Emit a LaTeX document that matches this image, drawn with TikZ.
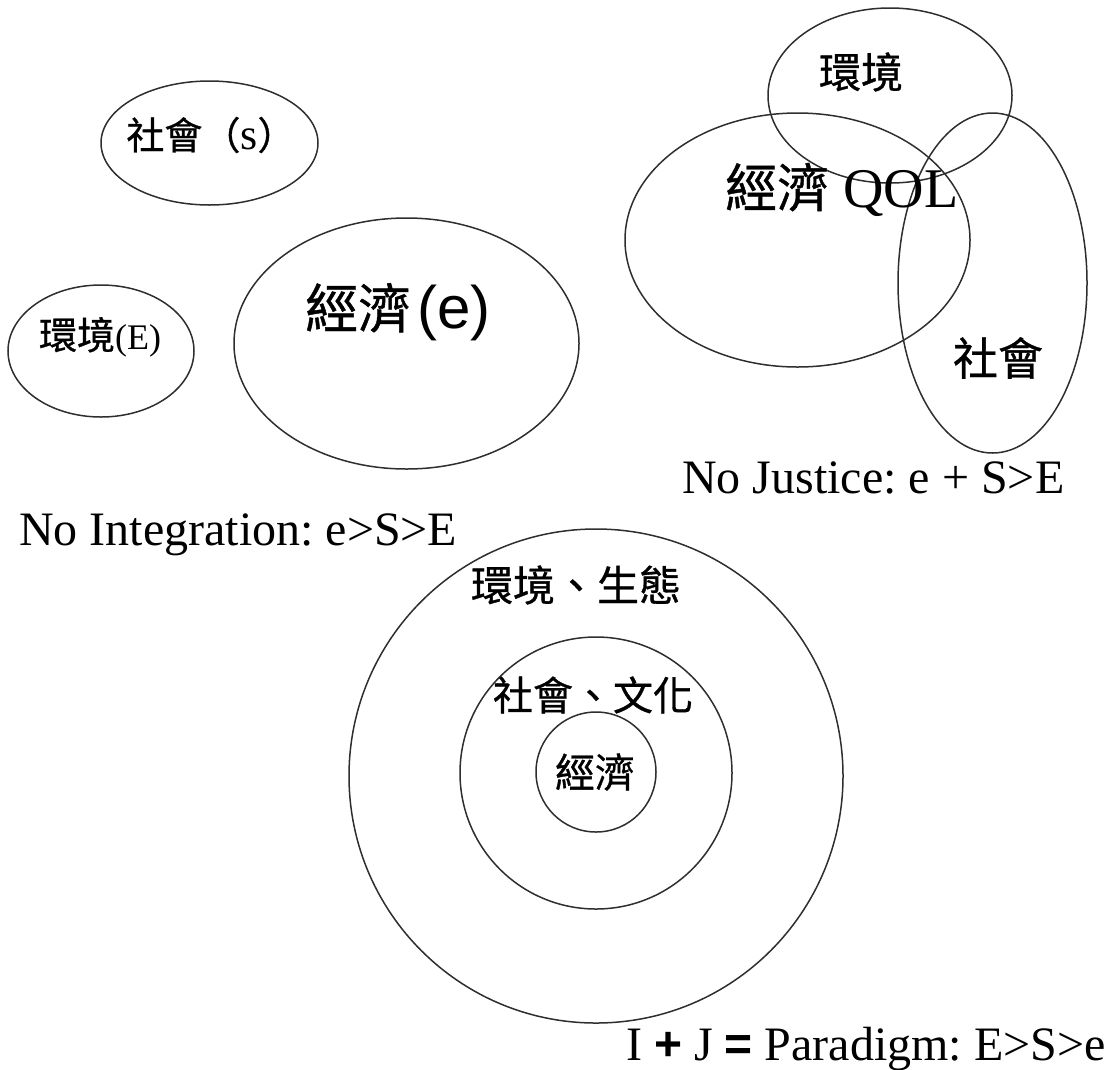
\documentclass[tikz,border=0pt]{standalone}
\usepackage{fontspec}
\setmainfont{Liberation Serif}
\newfontfamily\cjk[FakeBold=0.8]{Noto Sans CJK TC}
\newfontfamily\arial{Liberation Sans}
\usetikzlibrary{shapes.geometric}
\newcommand{\fs}[1]{\fontsize{#1}{#1}\selectfont}
\frenchspacing
\begin{document}
\begin{tikzpicture}[x=1pt,y=-1pt,
  oval/.style={draw=black!82, line width=1.5pt, ellipse, inner sep=0pt},
  lbl/.style={inner sep=0pt, text=black}]
\useasboundingbox (0,0) rectangle (1110,1069);

% ---- No Integration group ----
\node[oval, minimum width=217pt, minimum height=124pt] (socA) at (209.5,143) {};
\node[oval, minimum width=186pt, minimum height=132pt] (envA) at (101,351) {};
\node[oval, minimum width=345pt, minimum height=251pt] (ecoA) at (406.5,343.5) {};
\node[lbl, font=\fs{38}] (socAt) at (211,135) {{\cjk 社會（}{\fs{44}s}{\cjk ）}};
\node[lbl] (envAt) at (100,337) {{\cjk\fs{38}環境}{\fs{36}(E)}};
\node[lbl, anchor=base west] (ecoAt) at (305,328) {{\cjk\fs{53}經濟}\hspace{6pt}{\arial\fs{60}(e)}};
\node[lbl, anchor=base west, font=\fs{48}] (noInt) at (19,545) {No Integration: e>S>E};

% ---- No Justice group ----
\node[oval, minimum width=244pt, minimum height=175pt] (envB) at (890,95.5) {};
\node[oval, minimum width=345pt, minimum height=254pt] (ecoB) at (797.5,240) {};
\node[oval, minimum width=189pt, minimum height=340pt] (socB) at (992.5,283) {};
\node[lbl, font=\cjk\fs{42}] (envBt) at (861,72) {環境};
\node[lbl, anchor=base west] (ecoBt) at (725,207) {{\cjk\fs{52}經濟}{\fs{56} QOL}};
\node[lbl, font=\cjk\fs{45}] (socBt) at (998,358) {社會};
\node[lbl, anchor=base west, font=\fs{48}] (noJus) at (682,493) {No Justice: e + S>E};

% ---- Paradigm group ----
\node[oval, minimum width=494pt, minimum height=494pt] (envC) at (596,776) {};
\node[oval, minimum width=272pt, minimum height=272pt] (socC) at (596,773) {};
\node[oval, minimum width=120pt, minimum height=120pt] (ecoC) at (596,772) {};
\node[lbl, font=\cjk\fs{42}] (envCt) at (576,585) {環境、生態};
\node[lbl, font=\cjk\fs{40}] (socCt) at (593,695) {社會、文化};
\node[lbl, font=\cjk\fs{40}] (ecoCt) at (595,772) {經濟};
\node[lbl, anchor=base west, font=\fs{48}] (para) at (626,1060) {I {\arial\bfseries +} J {\arial\bfseries =} Paradigm: E>S>e};
\end{tikzpicture}
\end{document}
